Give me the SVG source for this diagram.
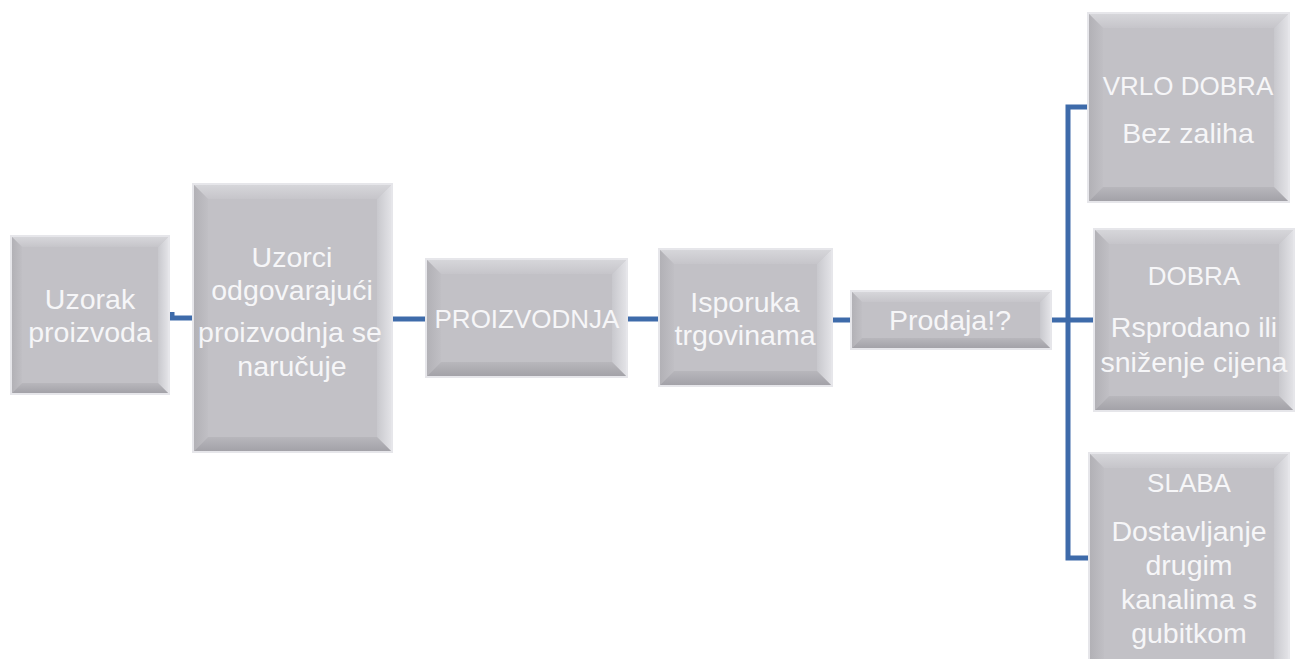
<svg xmlns="http://www.w3.org/2000/svg" width="1300" height="659" viewBox="0 0 1300 659">
<defs>
<style>
.edge{fill:#E6E6EA}
.face{fill:#C2C1C6}
.bt{fill:url(#gTop)}
.bl{fill:url(#gLeft)}
.br{fill:url(#gRight)}
.bb{fill:url(#gBot)}
.t{font-family:"Liberation Sans",Arial,sans-serif;font-size:28.5px;fill:#F6F6F8;text-anchor:middle}
.u{font-size:26px}
.c{fill:none;stroke:#3E6BAA;stroke-width:5}
</style>
<linearGradient id="gTop" x1="0" y1="0" x2="0" y2="1"><stop offset="0" stop-color="#D6D6DA"/><stop offset="1" stop-color="#C6C5CA"/></linearGradient>
<linearGradient id="gLeft" x1="0" y1="0" x2="1" y2="0"><stop offset="0" stop-color="#B2B1B6"/><stop offset="1" stop-color="#C0BFC4"/></linearGradient>
<linearGradient id="gRight" x1="0" y1="0" x2="1" y2="0"><stop offset="0" stop-color="#C8C8CD"/><stop offset="1" stop-color="#E2E2E6"/></linearGradient>
<linearGradient id="gBot" x1="0" y1="0" x2="0" y2="1"><stop offset="0" stop-color="#B8B7BC"/><stop offset="1" stop-color="#A3A2A8"/></linearGradient>
</defs>
<rect width="1300" height="659" fill="#FFFFFF"/>

<g id="connectors">
<path class="c" d="M170 318 H192"/>
<path class="c" d="M172 312 V320"/>
<path class="c" d="M393 319 H425"/>
<path class="c" d="M628 319 H658"/>
<path class="c" d="M833 320 H850"/>
<path class="c" d="M1052 320 H1093"/>
<path class="c" d="M1087 107 H1068 V558 H1088"/>
</g>

<g id="n1">
<rect class="edge" x="10" y="235" width="160" height="160"/>
<rect class="face" x="12" y="237" width="156" height="156"/>
<polygon class="bt" points="12,237 168,237 158,247 22,247"/>
<polygon class="bl" points="12,237 22,247 22,383 12,393"/>
<polygon class="br" points="168,237 168,393 158,383 158,247"/>
<polygon class="bb" points="12,393 22,383 158,383 168,393"/>
<text class="t" x="90" y="309">Uzorak</text>
<text class="t" x="90" y="342">proizvoda</text>
</g>

<g id="n2">
<rect class="edge" x="192" y="183" width="201" height="270"/>
<rect class="face" x="194" y="185" width="197" height="266"/>
<polygon class="bt" points="194,185 391,185 377,199 208,199"/>
<polygon class="bl" points="194,185 208,199 208,437 194,451"/>
<polygon class="br" points="391,185 391,451 377,437 377,199"/>
<polygon class="bb" points="194,451 208,437 377,437 391,451"/>
<text class="t" x="292" y="267">Uzorci</text>
<text class="t" x="292" y="300">odgovarajući</text>
<text class="t" x="290" y="342">proizvodnja se</text>
<text class="t" x="292" y="376">naručuje</text>
</g>

<g id="n3">
<rect class="edge" x="425" y="258" width="203" height="120"/>
<rect class="face" x="427" y="260" width="199" height="116"/>
<polygon class="bt" points="427,260 626,260 612,274 441,274"/>
<polygon class="bl" points="427,260 441,274 441,362 427,376"/>
<polygon class="br" points="626,260 626,376 612,362 612,274"/>
<polygon class="bb" points="427,376 441,362 612,362 626,376"/>
<text class="t u" x="527" y="328">PROIZVODNJA</text>
</g>

<g id="n4">
<rect class="edge" x="658" y="248" width="175" height="139"/>
<rect class="face" x="660" y="250" width="171" height="135"/>
<polygon class="bt" points="660,250 831,250 817,264 674,264"/>
<polygon class="bl" points="660,250 674,264 674,371 660,385"/>
<polygon class="br" points="831,250 831,385 817,371 817,264"/>
<polygon class="bb" points="660,385 674,371 817,371 831,385"/>
<text class="t" x="745" y="312">Isporuka</text>
<text class="t" x="745" y="345">trgovinama</text>
</g>

<g id="n5">
<rect class="edge" x="850" y="290" width="202" height="60"/>
<rect class="face" x="852" y="292" width="198" height="56"/>
<polygon class="bt" points="852,292 1050,292 1040,302 862,302"/>
<polygon class="bl" points="852,292 862,302 862,338 852,348"/>
<polygon class="br" points="1050,292 1050,348 1040,338 1040,302"/>
<polygon class="bb" points="852,348 862,338 1040,338 1050,348"/>
<text class="t" x="950" y="330">Prodaja!?</text>
</g>

<g id="n6">
<rect class="edge" x="1087" y="12" width="203" height="191"/>
<rect class="face" x="1089" y="14" width="199" height="187"/>
<polygon class="bt" points="1089,14 1288,14 1274,28 1103,28"/>
<polygon class="bl" points="1089,14 1103,28 1103,187 1089,201"/>
<polygon class="br" points="1288,14 1288,201 1274,187 1274,28"/>
<polygon class="bb" points="1089,201 1103,187 1274,187 1288,201"/>
<text class="t u" x="1188" y="95">VRLO DOBRA</text>
<text class="t" x="1188" y="143">Bez zaliha</text>
</g>

<g id="n7">
<rect class="edge" x="1093" y="228" width="202" height="184"/>
<rect class="face" x="1095" y="230" width="198" height="180"/>
<polygon class="bt" points="1095,230 1293,230 1279,244 1109,244"/>
<polygon class="bl" points="1095,230 1109,244 1109,396 1095,410"/>
<polygon class="br" points="1293,230 1293,410 1279,396 1279,244"/>
<polygon class="bb" points="1095,410 1109,396 1279,396 1293,410"/>
<text class="t u" x="1194" y="285">DOBRA</text>
<text class="t" x="1194" y="337">Rsprodano ili</text>
<text class="t" x="1194" y="372">sniženje cijena</text>
</g>

<g id="n8">
<rect class="edge" x="1088" y="452" width="202" height="220"/>
<rect class="face" x="1090" y="454" width="198" height="216"/>
<polygon class="bt" points="1090,454 1288,454 1274,468 1104,468"/>
<polygon class="bl" points="1090,454 1104,468 1104,670 1090,670"/>
<polygon class="br" points="1288,454 1288,670 1274,670 1274,468"/>
<text class="t u" x="1189" y="492">SLABA</text>
<text class="t" x="1189" y="541">Dostavljanje</text>
<text class="t" x="1189" y="575">drugim</text>
<text class="t" x="1189" y="609">kanalima s</text>
<text class="t" x="1189" y="643">gubitkom</text>
</g>
</svg>
